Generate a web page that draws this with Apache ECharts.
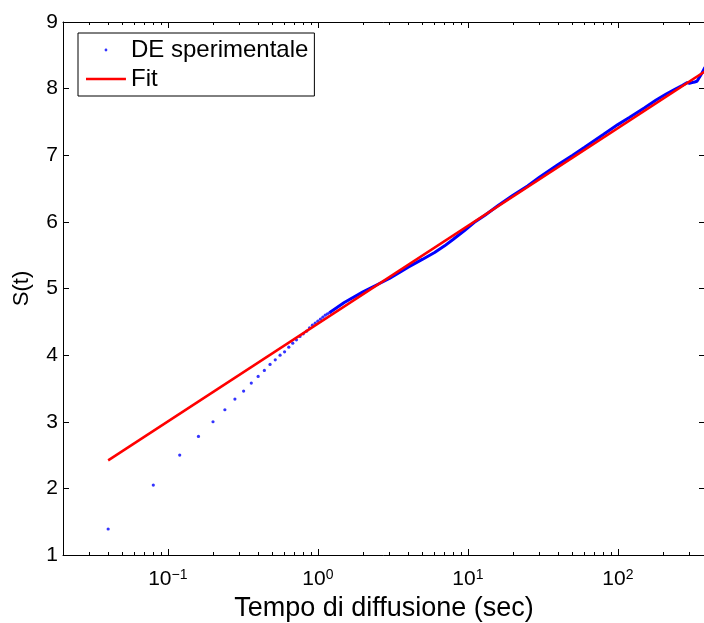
<!DOCTYPE html>
<html>
<head>
<meta charset="utf-8">
<script src="https://cdn.jsdelivr.net/npm/echarts@6/dist/echarts.min.js"></script>
<style>html,body{margin:0;padding:0;background:#fff}#chart{width:704px;height:623px}</style>
</head>
<body>
<div id="chart"></div>
<script>
// Experimental points, early (resolved) part: time (s) and S(t)
const sparseTime = [0.04,0.08,0.12,0.16,0.20,0.24,0.28,0.32,0.36,0.40,0.44,0.48,0.52,0.56,0.60,0.64,0.68,0.72,0.76,0.80,0.84,0.88,0.92,0.96,1.00,1.04,1.08,1.12,1.16,1.20];
const sparseValue = [1.39,2.05,2.50,2.78,3.00,3.18,3.34,3.46,3.58,3.68,3.77,3.86,3.93,4.00,4.05,4.12,4.18,4.23,4.28,4.32,4.36,4.41,4.45,4.48,4.51,4.54,4.57,4.60,4.62,4.64];
// Experimental points, dense part (samples read along the band)
const denseTime = [1.2,1.5,2,2.5,3,3.5,4,5,6,7,8,9.5,11,13,16,20,25,30,40,50,60,80,100,120,150,180,210,240,270,290,300,312,325,337,350,365,381];
const denseValue = [4.64,4.79,4.95,5.06,5.15,5.24,5.32,5.44,5.54,5.64,5.74,5.87,5.99,6.10,6.25,6.40,6.54,6.67,6.86,7.00,7.12,7.31,7.46,7.57,7.71,7.83,7.92,7.99,8.05,8.09,8.08,8.09,8.10,8.11,8.17,8.24,8.32];
// Fit line end points
const fitTime = [0.04, 381];
const fitValue = [2.42, 8.26];
// Axis ticks
const majorTicks = [0.1, 1, 10, 100];
const minorTicks = [0.02,0.03,0.04,0.05,0.06,0.07,0.08,0.09,0.2,0.3,0.4,0.5,0.6,0.7,0.8,0.9,2,3,4,5,6,7,8,9,20,30,40,50,60,70,80,90,200,300];
const seriesNames = ['DE sperimentale', 'Fit'];

const FONT = "'Liberation Sans', Arial, Helvetica, sans-serif";
const pairs = (xs, ys) => xs.map((x, i) => [x, ys[i]]);

const xBase = {
  type: 'log', logBase: 10, min: 0.02, max: 381, gridIndex: 0,
  splitLine: { show: false }, minorSplitLine: { show: false }
};
const axisLineStyle = { show: true, onZero: false, lineStyle: { color: '#000', width: 1 } };

const chart = echarts.init(document.getElementById('chart'), null, { renderer: 'canvas' });
chart.setOption({
  animation: false,
  backgroundColor: '#fff',
  grid: { left: 63, right: -1, top: 22, bottom: 68, containLabel: false, outerBoundsMode: 'none' },
  legend: {
    data: [
      { name: seriesNames[0], icon: 'path://M0,0L0,0.01M18.6,4a1.4,1.4,0,1,0,2.8,0a1.4,1.4,0,1,0,-2.8,0M40,8L40,8.01', itemStyle: { color: '#0000ff' } },
      { name: seriesNames[1], icon: 'path://M0,0L0,0.01M0,2.8L40,2.8L40,5.2L0,5.2ZM40,8L40,8.01', itemStyle: { color: '#ff0000' } }
    ],
    orient: 'vertical', left: 78, top: 33,
    padding: [5, 6, 5, 8], itemGap: 5, itemWidth: 40, itemHeight: 8,
    borderColor: '#000', borderWidth: 1, borderRadius: 0, backgroundColor: '#fff',
    selectedMode: false,
    textStyle: { fontSize: 24, lineHeight: 24, color: '#000', fontFamily: FONT }
  },
  xAxis: [
    Object.assign({}, xBase, {
      position: 'bottom',
      axisLine: axisLineStyle,
      axisTick: { show: true, inside: true, length: 6, lineStyle: { color: '#000' }, customValues: majorTicks },
      axisLabel: {
        show: true, customValues: majorTicks, margin: 13, color: '#000',
        formatter: function (v) {
          const e = Math.round(Math.log10(v));
          return '{b|10}{s|' + (e < 0 ? '\u2212' + (-e) : e) + '}';
        },
        rich: {
          b: { fontSize: 21, lineHeight: 22, padding: [8, 0, 0, 0], verticalAlign: 'bottom', fontFamily: FONT, color: '#000' },
          s: { fontSize: 14, lineHeight: 14, verticalAlign: 'top', fontFamily: FONT, color: '#000' }
        }
      },
      name: 'Tempo di diffusione (sec)', nameLocation: 'middle', nameGap: 38,
      nameTextStyle: { fontSize: 27, color: '#000', fontFamily: FONT }
    }),
    Object.assign({}, xBase, {
      position: 'bottom',
      axisLine: { show: false },
      axisTick: { show: true, inside: true, length: 3, lineStyle: { color: '#000' }, customValues: minorTicks },
      axisLabel: { show: false }
    }),
    Object.assign({}, xBase, {
      position: 'top',
      axisLine: axisLineStyle,
      axisTick: { show: true, inside: true, length: 6, lineStyle: { color: '#000' }, customValues: majorTicks },
      axisLabel: { show: false }
    }),
    Object.assign({}, xBase, {
      position: 'top',
      axisLine: { show: false },
      axisTick: { show: true, inside: true, length: 3, lineStyle: { color: '#000' }, customValues: minorTicks },
      axisLabel: { show: false }
    })
  ],
  yAxis: [
    {
      type: 'value', position: 'left', min: 1, max: 9, interval: 1,
      axisLine: axisLineStyle,
      axisTick: { show: true, inside: true, length: 6, lineStyle: { color: '#000' } },
      axisLabel: { show: true, margin: 5, fontSize: 21, color: '#000', fontFamily: FONT },
      splitLine: { show: false },
      name: 'S(t)', nameLocation: 'middle', nameGap: 30, nameRotate: 90,
      nameTextStyle: { fontSize: 22, color: '#000', fontFamily: FONT }
    },
    {
      type: 'value', position: 'right', min: 1, max: 9, interval: 1,
      axisLine: axisLineStyle,
      axisTick: { show: true, inside: true, length: 6, lineStyle: { color: '#000' } },
      axisLabel: { show: false },
      splitLine: { show: false }
    }
  ],
  series: [
    {
      name: seriesNames[0], type: 'scatter', xAxisIndex: 0, yAxisIndex: 0,
      data: pairs(sparseTime, sparseValue),
      symbol: 'circle', symbolSize: 3.2,
      itemStyle: { color: '#0000ff' }, z: 2
    },
    {
      name: seriesNames[0], type: 'line', xAxisIndex: 0, yAxisIndex: 0,
      data: pairs(denseTime, denseValue),
      showSymbol: false, symbol: 'none',
      lineStyle: { color: '#0000ff', width: 3 }, itemStyle: { color: '#0000ff' }, z: 2
    },
    {
      name: seriesNames[1], type: 'line', xAxisIndex: 0, yAxisIndex: 0,
      data: pairs(fitTime, fitValue),
      showSymbol: false, symbol: 'none',
      lineStyle: { color: '#ff0000', width: 2.5 }, itemStyle: { color: '#ff0000' }, z: 3
    }
  ]
});
</script>
</body>
</html>
